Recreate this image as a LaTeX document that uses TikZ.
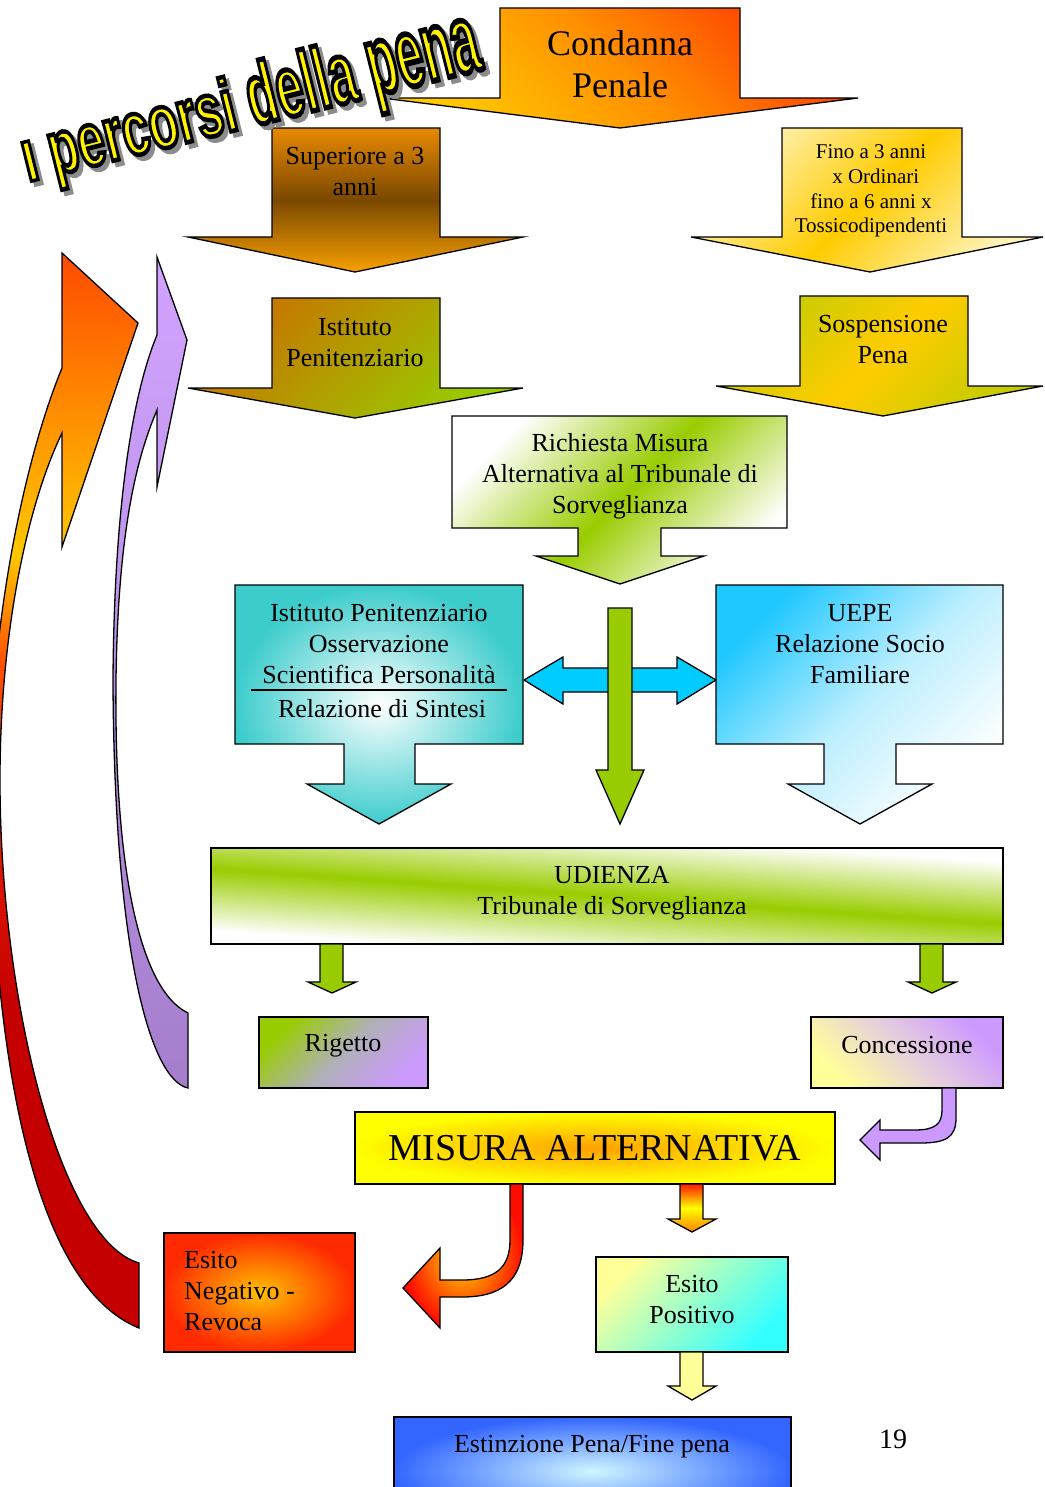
\documentclass[tikz,border=0pt]{standalone}
\usepackage{fontspec}
\setmainfont{Liberation Serif}
\newfontfamily\titlefont{Liberation Sans Bold}[FakeBold=6]
\newcommand{\fsz}[2]{\fontsize{#1}{#2}\selectfont}
\definecolor{grn}{HTML}{99CC00}
\definecolor{sky}{HTML}{00CCFF}
\definecolor{tealc}{HTML}{3CCCCC}
\definecolor{vio}{HTML}{CC99FF}
\definecolor{viodark}{HTML}{A47ECC}
\definecolor{rA}{HTML}{C40000}
\definecolor{rB}{HTML}{E01800}
\definecolor{rC}{HTML}{FF5200}
\definecolor{rD}{HTML}{FFC800}
\definecolor{rE}{HTML}{FF8A00}
\definecolor{rF}{HTML}{FF4A00}
\definecolor{cR}{HTML}{FF4000}
\definecolor{cO}{HTML}{FF9000}
\definecolor{cY}{HTML}{FFC800}
\definecolor{brA}{HTML}{E88A00}
\definecolor{brB}{HTML}{7A4800}
\definecolor{brC}{HTML}{F7A000}
\definecolor{lyel}{HTML}{FFF3B8}
\definecolor{gold}{HTML}{FFCC00}
\definecolor{ochre}{HTML}{C87200}
\definecolor{ygreen}{HTML}{C4CC00}
\definecolor{uepe}{HTML}{1FC8FF}
\definecolor{grayv}{HTML}{B0B0B8}
\definecolor{pinkm}{HTML}{E6D0DC}
\definecolor{paley}{HTML}{FFFF99}
\definecolor{aqua}{HTML}{33FFFF}
\definecolor{misuraO}{HTML}{FFA000}
\definecolor{negO}{HTML}{FFC000}
\definecolor{negR}{HTML}{FF2A00}
\definecolor{estB}{HTML}{3366FF}
\definecolor{estL}{HTML}{CFF6FF}
\pgfdeclareverticalshading{redarrowshade}{100bp}{color(0bp)=(rA); color(25bp)=(rA); color(40bp)=(rA); color(47bp)=(rB); color(56bp)=(rC); color(61bp)=(rD); color(68bp)=(rE); color(75bp)=(rF); color(100bp)=(rF)}
\newcommand{\blackstroke}{\special{pdf:literal direct 0 0 0 RG}}
\newcommand{\titletext}[1]{\scalebox{0.675}[1]{\scalebox{1}[0.8]{#1I} \scalebox{1}[1.05]{#1percorsi} \scalebox{1}[1.2]{#1della} \scalebox{1}[1.35]{#1pena}}}
\tikzset{
  blk/.style={draw=black, line width=1.3pt, line join=miter},
  lbl/.style={font=\fsz{26}{31}, align=center, inner sep=0pt},
  ttl/.style={anchor=base west, rotate=14, inner sep=0pt, font=\titlefont\fontsize{72}{72}\selectfont},
}
\begin{document}
\begin{tikzpicture}[x=1pt,y=-1pt]
\useasboundingbox (0,0) rectangle (1044,1487);
\clip (0,0) rectangle (1044,1487);

% ---- big return arrows on the left
\path[blk, shade, shading=redarrowshade]
  (62,253) -- (138,323) -- (62,547) -- (62,433)
  .. controls (25,510) and (0,640) .. (0,780)
  .. controls (0,1000) and (60,1240) .. (139,1263)
  -- (139,1328)
  .. controls (20,1280) and (-10,1000) .. (-10,780)
  .. controls (-10,640) and (20,470) .. (62,368) -- cycle;
\path[blk, top color=vio!90!white, bottom color=viodark]
  (157,257) -- (187,340) -- (157,487) -- (157,410)
  .. controls (140,450) and (118,520) .. (116,680)
  .. controls (114,870) and (140,990) .. (188,1013)
  -- (188,1088)
  .. controls (150,1080) and (114,950) .. (113,680)
  .. controls (114,520) and (130,400) .. (157,335) -- cycle;

% ---- Condanna Penale
\path[blk, top color=cR, bottom color=cY, middle color=cO, shading angle=-45]
  (500,8) -- (740,8) -- (740,98) -- (858,98) -- (620,128) -- (382,98) -- (500,98) -- cycle;
\node[lbl, font=\fsz{36}{42}] (condanna) at (620,64) {Condanna\\Penale};

% ---- Superiore a 3 anni
\path[blk, top color=brA, bottom color=brC, middle color=brB]
  (272,128) -- (440,128) -- (440,237) -- (523,237) -- (355,272) -- (188,237) -- (272,237) -- cycle;
\node[lbl] (superiore) at (355,172) {Superiore a 3\\anni};

% ---- Fino a 3 anni
\path[blk, top color=lyel, bottom color=lyel, middle color=gold, shading angle=45]
  (782,128) -- (962,128) -- (962,237) -- (1043,237) -- (870,272) -- (691,237) -- (782,237) -- cycle;
\node[lbl, font=\fsz{21}{24.7}] (fino) at (871,191)
  {Fino a 3 anni\\\hspace{0.45em}x Ordinari\\fino a 6 anni x\hspace{1.75em}\\Tossicodipendenti};

% ---- Istituto Penitenziario
\path[blk, top color=ochre, bottom color=grn, shading angle=45]
  (272,298) -- (440,298) -- (440,388) -- (523,388) -- (355,418) -- (188,388) -- (272,388) -- cycle;
\node[lbl] (istituto) at (355,343) {Istituto\\Penitenziario};

% ---- Sospensione Pena
\path[blk, top color=ygreen, bottom color=ygreen, middle color=gold, shading angle=45]
  (800,296) -- (968,296) -- (968,386) -- (1043,386) -- (883,416) -- (716,386) -- (800,386) -- cycle;
\node[lbl] (sospensione) at (883,340) {Sospensione\\Pena};

% ---- Richiesta Misura Alternativa
\path[blk, top color=white, bottom color=white, middle color=grn, shading angle=45]
  (452,416) -- (787,416) -- (787,528) -- (661,528) -- (661,556) -- (704,556) -- (620,584)
  -- (536,556) -- (578,556) -- (578,528) -- (452,528) -- cycle;
\node[lbl] (richiesta) at (620,476) {Richiesta Misura\\Alternativa al Tribunale di\\Sorveglianza};

% ---- double arrow and green arrow
\path[blk, fill=sky]
  (524,680) -- (563,657) -- (563,668) -- (677,668) -- (677,657) -- (716,680)
  -- (677,704) -- (677,692) -- (563,692) -- (563,704) -- cycle;
\path[blk, fill=grn]
  (608,608) -- (632,608) -- (632,770) -- (644,770) -- (620,824) -- (596,770) -- (608,770) -- cycle;

% ---- Istituto Penitenziario Osservazione
\path[blk, inner color=white, outer color=tealc]
  (235,585) -- (523,585) -- (523,744) -- (415,744) -- (415,784) -- (451,784) -- (379,824)
  -- (307,784) -- (344,784) -- (344,744) -- (235,744) -- cycle;
\node[lbl] (osserv) at (379,644) {Istituto Penitenziario\\Osservazione\\Scientifica Personalit\`a};
\coordinate (ruleL) at (251,690);
\coordinate (ruleR) at (507,690);
\draw[line width=1.3pt] (ruleL) -- (ruleR);
\node[lbl] (sintesi) at (382,709) {Relazione di Sintesi};

% ---- UEPE
\path[blk, top color=uepe, bottom color=white, middle color=uepe!30!white, shading angle=45]
  (716,585) -- (1003,585) -- (1003,744) -- (896,744) -- (896,784) -- (932,784) -- (860,824)
  -- (788,784) -- (824,784) -- (824,744) -- (716,744) -- cycle;
\node[lbl] (uepe) at (860,644) {UEPE\\Relazione Socio\\Familiare};

% ---- UDIENZA
\begin{scope}
  \clip (211,848) rectangle (1003,944);
  \shade[transform canvas={rotate around={-4:(607,896)}}, top color=white, bottom color=white, middle color=grn]
    (150,834) rectangle (1064,958);
\end{scope}
\draw[blk] (211,848) rectangle (1003,944);
\node[lbl] (udienza) at (612,893) {UDIENZA\\Tribunale di Sorveglianza};

% ---- small green arrows
\path[blk, fill=grn]
  (320,944) -- (343,944) -- (343,982) -- (356,982) -- (332,993) -- (308,982) -- (320,982) -- cycle;
\path[blk, fill=grn]
  (920,944) -- (943,944) -- (943,982) -- (956,982) -- (932,993) -- (908,982) -- (920,982) -- cycle;

% ---- Rigetto / Concessione
\path[blk, top color=grn, bottom color=vio, middle color=grayv, shading angle=45]
  (259,1017) rectangle (428,1088);
\node[lbl] (rigetto) at (343,1046) {Rigetto};
\path[blk, top color=vio, bottom color=paley, middle color=pinkm, shading angle=-45]
  (811,1017) rectangle (1003,1088);
\node[lbl] (concessione) at (907,1045) {Concessione};

% ---- purple bent arrow
\path[blk, fill=vio]
  (942,1088) -- (956,1088) -- (956,1118) .. controls (956,1138) and (945,1143) .. (920,1143)
  -- (880,1143) -- (880,1160) -- (860,1140) -- (880,1120) -- (880,1130) -- (915,1130)
  .. controls (935,1130) and (942,1124) .. (942,1110) -- cycle;

% ---- MISURA ALTERNATIVA
\path[blk, inner color=misuraO, outer color=yellow]
  (355,1112) rectangle (835,1184);
\node[lbl, font=\fsz{38}{42}] (misura) at (595,1148) {MISURA ALTERNATIVA};

% ---- orange bent arrow
\path[blk, inner color=yellow!70!orange, outer color=red!90!orange]
  (510,1184) -- (523,1184) -- (523,1240) .. controls (523,1282) and (500,1297) .. (462,1297)
  -- (440,1297) -- (440,1328) -- (403,1288) -- (440,1248) -- (440,1280) -- (462,1280)
  .. controls (495,1280) and (510,1268) .. (510,1240) -- cycle;

% ---- small orange arrow
\path[blk, top color=red!80!orange, bottom color=orange, middle color=yellow]
  (680,1184) -- (703,1184) -- (703,1219) -- (716,1219) -- (692,1232) -- (668,1219) -- (680,1219) -- cycle;

% ---- Esito Negativo
\path[blk, inner color=negO, outer color=negR]
  (164,1233) rectangle (355,1352);
\node[lbl, anchor=west, align=left] (negativo) at (184,1291) {Esito\\Negativo -\\Revoca};

% ---- Esito Positivo
\path[blk, top color=paley, bottom color=aqua, shading angle=45]
  (596,1257) rectangle (788,1352);
\node[lbl] (positivo) at (692,1300) {Esito\\Positivo};

% ---- small yellow arrow
\path[blk, fill=paley]
  (680,1352) -- (703,1352) -- (703,1386) -- (716,1386) -- (692,1400) -- (668,1386) -- (680,1386) -- cycle;

% ---- Estinzione
\path[blk, inner color=estL, outer color=estB]
  (394,1417) rectangle (791,1525);
\node[lbl] (estinzione) at (592,1447) {Estinzione Pena/Fine pena};

\node[lbl, font=\fsz{28}{32}] (pagenum) at (893,1439) {19};

% ---- title (shadow, then yellow letters with black outline)
\node[ttl, text=black!45] (titleshadow) at (32,186) {\titletext{}};
\node[ttl] (title) at (28,182)
  {\color{yellow}\titletext{\blackstroke}};
\end{tikzpicture}
\end{document}
